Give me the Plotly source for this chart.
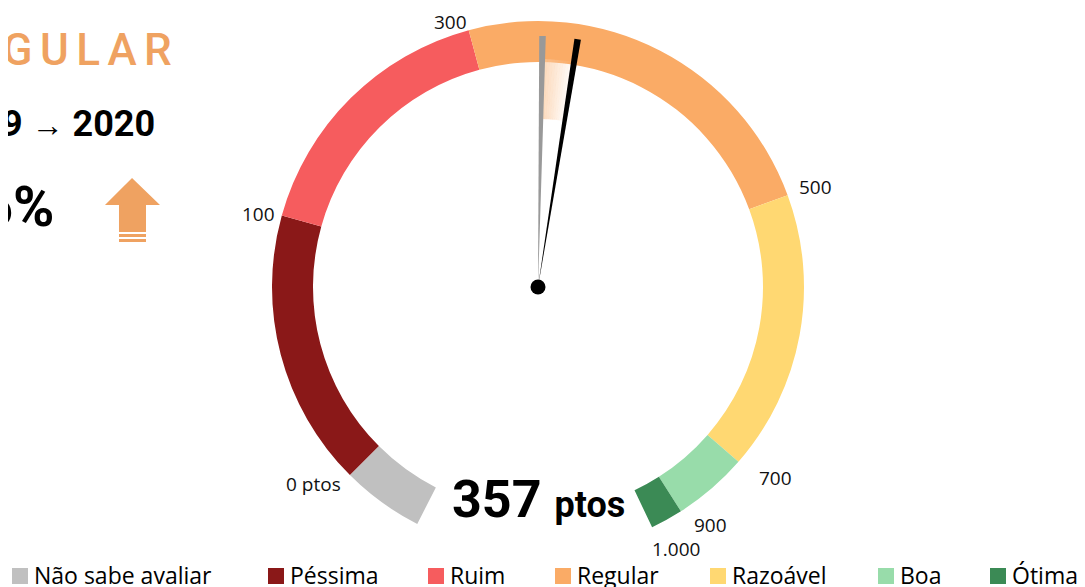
import numpy as np
import plotly.graph_objects as go

W, H = 1085, 587
PAGE_OFF = 8  # default body margin of the html page

# gauge bands (legend order) and their angular extent on the dial,
# degrees measured clockwise from the bottom of the circle
band_names = ["Não sabe avaliar", "Péssima", "Ruim", "Regular", "Razoável", "Boa", "Ótima"]
band_colors = ["#c0c0c0", "#8a1818", "#f65c5e", "#faab66", "#ffd872", "#98dcaa", "#3b8a55"]
band_edges = [27.0, 45.0, 105.6, 164.9, 249.8, 311.1, 327.5, 334.6]

# score scale printed around the dial (at the band edges)
scale_points = [0, 100, 300, 500, 700, 900, 1000]
scale_labels = ["0 ptos", "100", "300", "500", "700", "900", "1.000"]

years = ["2019", "2020"]
score_prev = 338
score_now = 357

R_IN, R_OUT, R_MAX = 225, 266, 278
CX, CY = 538, 287

BIG = "Roboto, Liberation Sans, sans-serif"
ORANGE = "#efa261"

# label placement around the dial: (xanchor, xshift, yshift)
label_style = [("right", -7, -9), ("right", -5, 1), ("right", 0, 8), ("left", 9, 8),
               ("left", 19, -16), ("left", 11, -14), ("left", -2, -22)]


def px(x):
    return (x - PAGE_OFF) / W


def py(y):
    return 1 - (y - PAGE_OFF) / H


def angle(score):
    return float(np.interp(score, scale_points, band_edges[1:]))


fig = go.Figure()

# ring
for i, name in enumerate(band_names):
    a0, a1 = band_edges[i], band_edges[i + 1]
    fig.add_trace(go.Barpolar(
        theta=[(a0 + a1) / 2], width=[a1 - a0], r=[R_OUT - R_IN], base=[R_IN],
        marker=dict(color=band_colors[i], line=dict(width=0)),
        name=name, showlegend=False, hoverinfo="name",
    ))

# soft highlight between last year and this year
a_prev, a_now = angle(score_prev), angle(score_now)
n = 12
step = (a_now - a_prev) / n
for k in range(n):
    alpha = 0.7 * (1 - k / n)
    fig.add_trace(go.Barpolar(
        theta=[a_prev + step * (k + 0.5)], width=[step * 1.05], r=[60], base=[168],
        marker=dict(color=f"rgba(251,200,155,{alpha:.2f})", line=dict(width=0)),
        showlegend=False, hoverinfo="skip",
    ))

# needles (thin wedges)
for sc, col, nm in [(score_prev, "#999999", years[0]), (score_now, "#000000", years[1])]:
    fig.add_trace(go.Barpolar(
        theta=[angle(sc)], width=[1.5], r=[251], base=[0],
        marker=dict(color=col, line=dict(width=0)),
        name=f"{nm}: {sc} ptos", showlegend=False,
    ))

# hub
fig.add_trace(go.Scatterpolar(
    r=[0], theta=[0], mode="markers",
    marker=dict(size=15, color="#000000"), showlegend=False, hoverinfo="skip",
))

fig.update_layout(
    width=W, height=H,
    margin=dict(l=0, r=0, t=0, b=0),
    paper_bgcolor="white",
    polar=dict(
        domain=dict(x=[px(CX - R_MAX), px(CX + R_MAX)], y=[py(CY + R_MAX), py(CY - R_MAX)]),
        bgcolor="white",
        radialaxis=dict(range=[0, R_MAX], visible=False),
        angularaxis=dict(rotation=270, direction="clockwise", visible=False),
        bargap=0,
    ),
    showlegend=False,
)

annos = []

# scale labels at the outer edge of each band boundary
for lab, th, (xa, xs, ys) in zip(scale_labels, band_edges[1:], label_style):
    t = np.radians(th)
    annos.append(dict(
        text=lab, x=px(CX - R_OUT * np.sin(t)), y=py(CY + R_OUT * np.cos(t)),
        xanchor=xa, xshift=xs, yshift=ys,
        font=dict(family="Open Sans, sans-serif", size=19, color="#111111"),
    ))

# headline block on the left
band_now = band_names[int(np.searchsorted(scale_points, score_now))]
change = (score_now - score_prev) / score_prev * 100
pct = f"{change:.1f}".replace(".", ",") + "%"

annos += [
    dict(text="\u2006".join(band_now.upper()), x=px(174), y=py(50), xanchor="right",
         font=dict(family=BIG, size=44, color=ORANGE, weight=500)),
    dict(text=f"<b>{years[0]} <span style='font-size:32px'>→</span> {years[1]}</b>",
         x=px(157), y=py(124), xanchor="right",
         font=dict(family=BIG, size=36, color="#000000")),
    dict(text=f"<b>{pct}</b>", x=px(56), y=py(207), xanchor="right",
         font=dict(family=BIG, size=56, color="#000000")),
    dict(text=f"<b>{score_now} <span style='font-size:36px'>ptos</span></b>",
         x=px(538), y=py(499), xanchor="center",
         font=dict(family=BIG, size=52, color="#000000")),
]

# legend (manual, to keep Excel-like spacing)
leg_x = [12, 268, 428, 555, 710, 878, 990]
shapes = []
for xl, name, col in zip(leg_x, band_names, band_colors):
    shapes.append(dict(type="rect", xref="paper", yref="paper",
                       x0=px(xl), x1=px(xl + 16), y0=py(584), y1=py(568),
                       fillcolor=col, line=dict(width=0)))
    annos.append(dict(text=name, x=px(xl + 20), y=py(575), xanchor="left",
                      font=dict(family="Open Sans, sans-serif", size=23, color="#000000")))

# up arrow
pts = [(105, 205), (132, 178), (160, 205), (146, 205), (146, 232), (119, 232), (119, 205)]
path = "M " + " L ".join(f"{px(x):.5f},{py(y):.5f}" for x, y in pts) + " Z"
shapes.append(dict(type="path", xref="paper", yref="paper", path=path,
                   fillcolor=ORANGE, line=dict(width=0)))
for y0 in (234, 239):
    shapes.append(dict(type="rect", xref="paper", yref="paper",
                       x0=px(119), x1=px(146), y0=py(y0 + 3), y1=py(y0),
                       fillcolor=ORANGE, line=dict(width=0)))

for a in annos:
    a.update(xref="paper", yref="paper", showarrow=False, yanchor="middle")
fig.update_layout(annotations=annos, shapes=shapes)

fig.write_html("out.html")
